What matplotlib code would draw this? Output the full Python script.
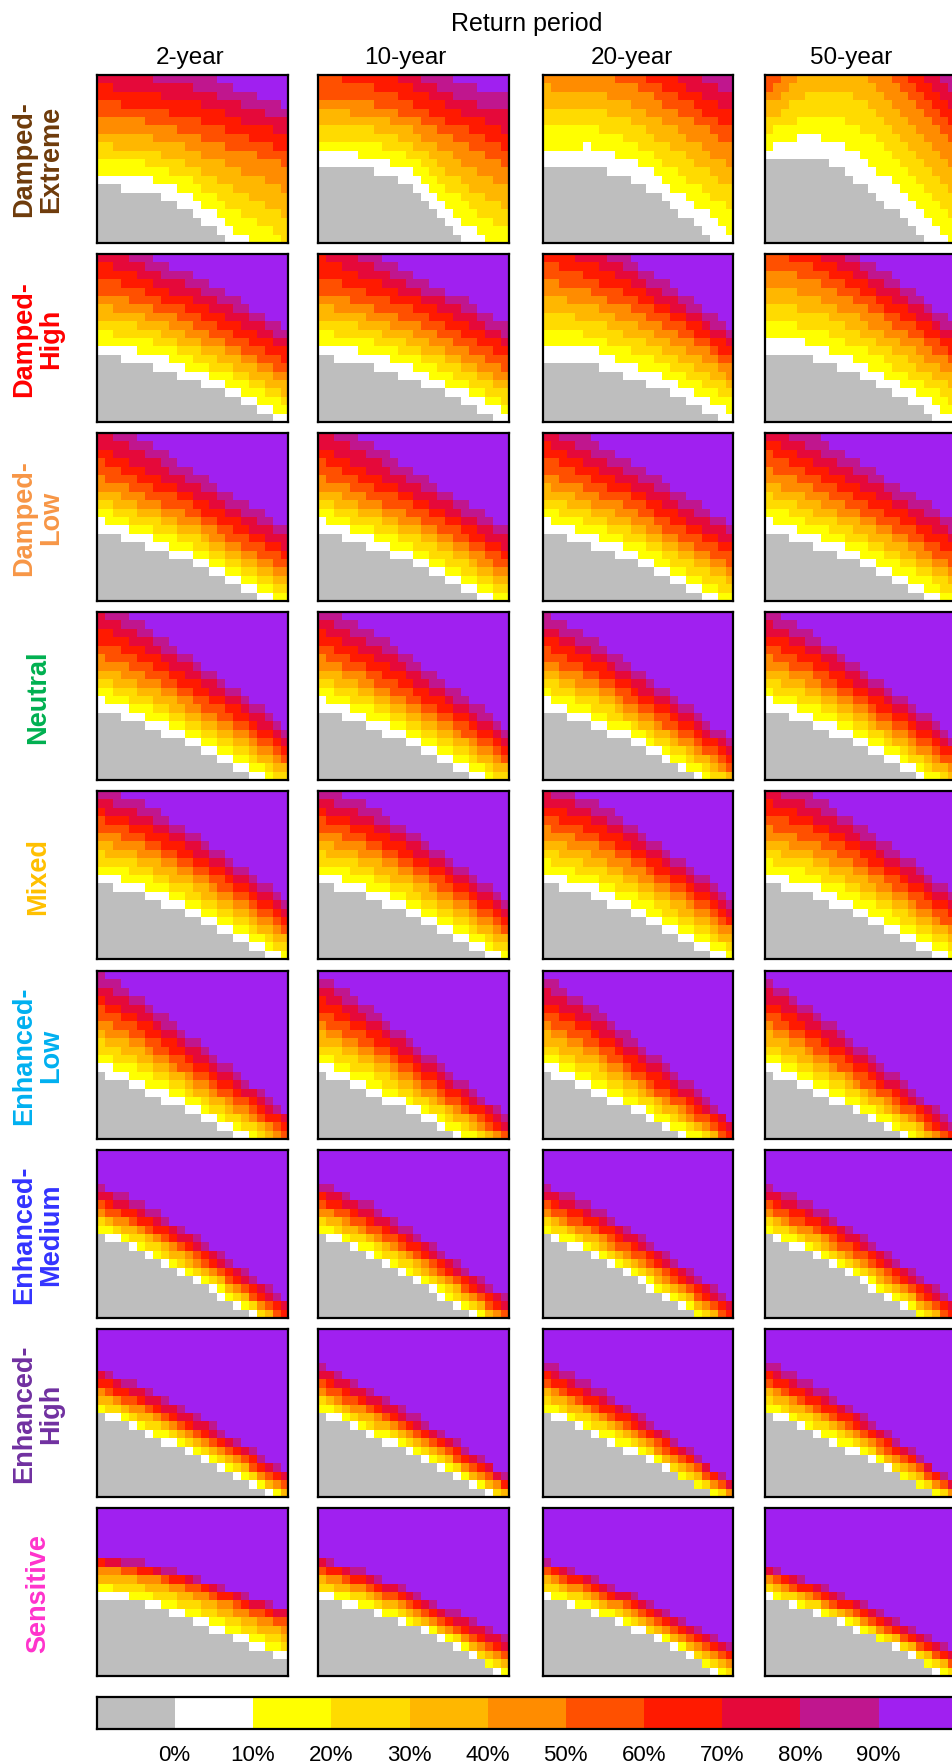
import numpy as np
import matplotlib.pyplot as plt
from matplotlib.colors import ListedColormap

plt.rcParams['font.family'] = ['Liberation Sans', 'DejaVu Sans']

scenarios = ['Damped-\nExtreme', 'Damped-\nHigh', 'Damped-\nLow', 'Neutral', 'Mixed',
             'Enhanced-\nLow', 'Enhanced-\nMedium', 'Enhanced-\nHigh', 'Sensitive']
scenario_colors = ['#6E3B0B', '#FF0000', '#F79646', '#00B050', '#FFC000',
                   '#00B0F0', '#3333FF', '#7030A0', '#FF33CC']
periods = ['2-year', '10-year', '20-year', '50-year']

class_colors = ['#BEBEBE', '#FFFFFF', '#FFFF00', '#FFDB00', '#FFB700', '#FF8C00',
                '#FF5000', '#FF1A00', '#E5093A', '#C0168E', '#A020F0']
tick_labels = ['0%', '10%', '20%', '30%', '40%', '50%', '60%', '70%', '80%', '90%']

n_cols, n_rows = 24, 20
sample_cols = [0, 6, 12, 18, 24]

# height (in cells from the bottom) where each panel leaves the grey 0% area,
# read at the sample columns; one list per return period
edge_zero = [
    [[6.6, 6.4, 3.8, -1.5, -6], [9.0, 8.8, 6.8, 0.5, -4], [8.8, 9.3, 7.3, 3.0, -1.5], [9.6, 10.4, 7.2, 2.4, -3.5]],
    [[8.0, 7.0, 5.0, 2.5, -0.5], [7.8, 7.0, 5.0, 2.5, -0.5], [7.5, 7.0, 5.0, 2.5, -0.5], [7.8, 7.5, 5.5, 2.5, -1]],
    [[8.5, 6.5, 4.5, 1.5, -1.5], [8.5, 6.5, 4.5, 1.5, -1.5], [8.3, 6.5, 4.5, 1.5, -1.5], [8.3, 6.5, 4.5, 1.5, -1.5]],
    [[8.5, 6.5, 4, 1, -2], [8.5, 6.5, 4, 1, -2], [8.5, 6.5, 4, 0.8, -2.5], [8.5, 6.5, 4, 1, -2.5]],
    [[9, 7.5, 5, 2, -1], [9, 7.5, 5, 2, -1], [9, 7.5, 5, 2, -1], [9, 7.5, 5, 2, -1]],
    [[8, 5.5, 3, 0, -2.5], [8, 5.5, 3, 0, -2.5], [8, 5.5, 3, 0, -2.5], [8, 5.5, 3, 0, -2.5]],
    [[10, 7.5, 4.5, 1, -2.5], [10, 7.5, 4.5, 1, -2.5], [9.8, 7.3, 4.3, 0.8, -2.5], [9.8, 7.3, 4.3, 0.8, -2.5]],
    [[10, 7.5, 5, 2, -1], [10, 7.5, 5, 2, -1], [10, 7.5, 4.8, 1.8, -1.2], [10, 7.5, 4.8, 1.8, -1.2]],
    [[9.3, 8.5, 6.5, 4, 1.5], [9.3, 7.8, 5.8, 3, -0.5], [9.3, 7.5, 5.3, 2.5, -1], [9.3, 7.5, 5.3, 2.5, -1]],
]
# height where the 50% class starts
edge_half = [
    [[15, 14.5, 13, 11, 9.2], [17.5, 17, 15, 12, 9], [21, 20.5, 18.5, 15, 11.5], [17.8, 23.5, 24, 18, 12]],
    [[15.5, 14, 11.5, 8.5, 5.5], [15.5, 14, 12, 9, 6], [17, 15.5, 13, 10, 6.5], [18.5, 17, 14, 10.5, 7]],
    [[15, 12.5, 10, 6.5, 3.5], [15, 12.5, 10, 7, 3.5], [15.5, 13, 10.5, 7, 4], [16, 13.5, 10.5, 7.5, 4]],
    [[15, 12.5, 9.3, 6, 2], [15, 12.3, 9, 5.8, 2], [14.5, 12, 8.5, 5, 1], [14.8, 12.3, 8.8, 5.3, 1.3]],
    [[15.5, 13.5, 10.5, 7, 3], [15.5, 13.5, 10.5, 7, 3], [15.8, 13.8, 10.8, 7.3, 3.2], [16, 14, 11, 7.5, 3.5]],
    [[14.5, 11.5, 7.5, 4, 0], [14.2, 11.2, 7.2, 3.5, -0.3], [14, 11, 7, 3.3, -0.5], [14, 10.8, 6.8, 3, -0.8]],
    [[13, 10.5, 7.3, 3.5, -0.5], [13.3, 10.7, 7.5, 3.8, -0.2], [13, 10.4, 7.1, 3.4, -0.5], [13, 10.4, 7.1, 3.4, -0.5]],
    [[12.8, 10.3, 7.5, 4.3, 0.8], [13, 10.3, 7.4, 4.2, 0.6], [13.5, 10.5, 7.4, 4, 0.3], [13.5, 10.5, 7.4, 4, 0.3]],
    [[13, 12, 10.3, 8, 6], [12.5, 10.5, 8, 5.2, 2], [12.3, 10, 7.5, 4.5, 1.5], [11.8, 9.5, 7, 4.2, 1.2]],
]
# height where the purple 90% area starts
edge_top = [
    [[22.4, 21.5, 20.5, 18.3, 16.2], [27, 25, 22, 19, 17.5], [30, 29, 26, 22.5, 19.3], [26, 33, 33, 25, 20]],
    [[23, 20, 17.3, 14.3, 11], [24, 20.5, 17.5, 14.8, 11.5], [26, 22, 18.8, 15, 10.8], [27, 23.5, 19.8, 16, 11.5]],
    [[22, 19, 15.5, 12, 8.5], [22, 19, 15.5, 12, 8.5], [22.5, 19.3, 16, 12.5, 9], [23, 19.8, 16.5, 13, 9.5]],
    [[21.5, 18.5, 14.5, 10.5, 6], [21.3, 18.2, 14.3, 10.3, 6], [20, 17, 13, 9, 4.5], [20.5, 17.5, 13.5, 9.5, 5]],
    [[20.5, 18.5, 15, 11, 7], [20.5, 18.5, 15, 11, 7], [21, 19, 15.5, 11.5, 7], [21.5, 19.5, 16, 12, 7.5]],
    [[20, 16.5, 12, 7.5, 3], [19.8, 16, 11.5, 7, 2.5], [19.5, 16, 11.5, 7, 2], [19.5, 15.5, 11, 6.5, 1.5]],
    [[16, 13.5, 10, 6, 2], [16.5, 13.8, 10.3, 6.3, 2.3], [16, 13.5, 10, 6, 2], [16, 13.5, 10, 6, 2]],
    [[15.5, 13, 10, 6.5, 3], [16, 13, 9.8, 6.3, 2.5], [16.5, 13.5, 10, 6, 1.5], [16.5, 13.5, 10, 6, 1.5]],
    [[14.2, 13.5, 12, 10, 8], [14.1, 12.5, 10, 7.3, 4.4], [14, 12, 9.3, 6.5, 3.6], [13.2, 11.3, 8.8, 6, 3]],
]


def panel_classes(e0, e50, e90):
    xc = np.arange(n_cols) + 0.5
    yc = (np.arange(n_rows) + 0.5)[:, None]
    a = np.interp(xc, sample_cols, e0)[None, :]
    b = np.interp(xc, sample_cols, e50)[None, :]
    c = np.interp(xc, sample_cols, e90)[None, :]
    low = 0.5 * (yc - a) / (b - a)
    high = 0.5 + 0.4 * (yc - b) / (c - b)
    v = np.where(yc < b, low, high)
    v = np.where(yc >= c, 0.95, v)
    cls = np.floor(v * 10).astype(int) + 1
    cls[yc.repeat(n_cols, 1) < a.repeat(n_rows, 0)] = 0
    return np.clip(cls, 0, 10)


cmap = ListedColormap(class_colors)
W, H = 952, 1765
fig = plt.figure(figsize=(W / 100, H / 100), dpi=100)

lefts = [96.5, 318, 542.5, 765]
title_shift = [-2, -8, -6, -9]
pw, ph = 191, 168
for i in range(len(scenarios)):
    top = 75.5 + i * 179.2
    for j in range(len(periods)):
        ax = fig.add_axes([lefts[j] / W, 1 - (top + ph) / H, pw / W, ph / H])
        grid = panel_classes(edge_zero[i][j], edge_half[i][j], edge_top[i][j])
        ax.imshow(grid, cmap=cmap, vmin=-0.5, vmax=10.5, origin='lower',
                  extent=[0, n_cols, 0, n_rows], aspect='auto', interpolation='nearest')
        ax.set_xticks([])
        ax.set_yticks([])
        for s in ax.spines.values():
            s.set_linewidth(1.6)
        if i == 0:
            fig.text((lefts[j] + pw / 2 + title_shift[j]) / W, 1 - 64 / H, periods[j],
                     ha='center', va='baseline', fontsize=17.5)
    fig.text(38 / W, 1 - (top + ph / 2) / H, scenarios[i], rotation=90, ha='center',
             va='center', fontsize=19.5, fontweight='bold', color=scenario_colors[i],
             multialignment='center', linespacing=1.05)

fig.text((96.5 + 957) / 2 / W, 1 - 31 / H, 'Return period', ha='center', va='baseline', fontsize=18)

cax = fig.add_axes([96.5 / W, 1 - 1730 / H, 860 / W, 32 / H])
cax.imshow(np.arange(11)[None, :], cmap=cmap, vmin=-0.5, vmax=10.5,
           extent=[0, 11, 0, 1], aspect='auto', interpolation='nearest')
cax.set_yticks([])
cax.set_xticks(np.arange(1, 11))
cax.set_xticklabels(tick_labels, fontsize=16)
cax.tick_params(axis='x', length=0, pad=11)
for s in cax.spines.values():
    s.set_linewidth(1.6)

fig.savefig('out.png', dpi=100)
